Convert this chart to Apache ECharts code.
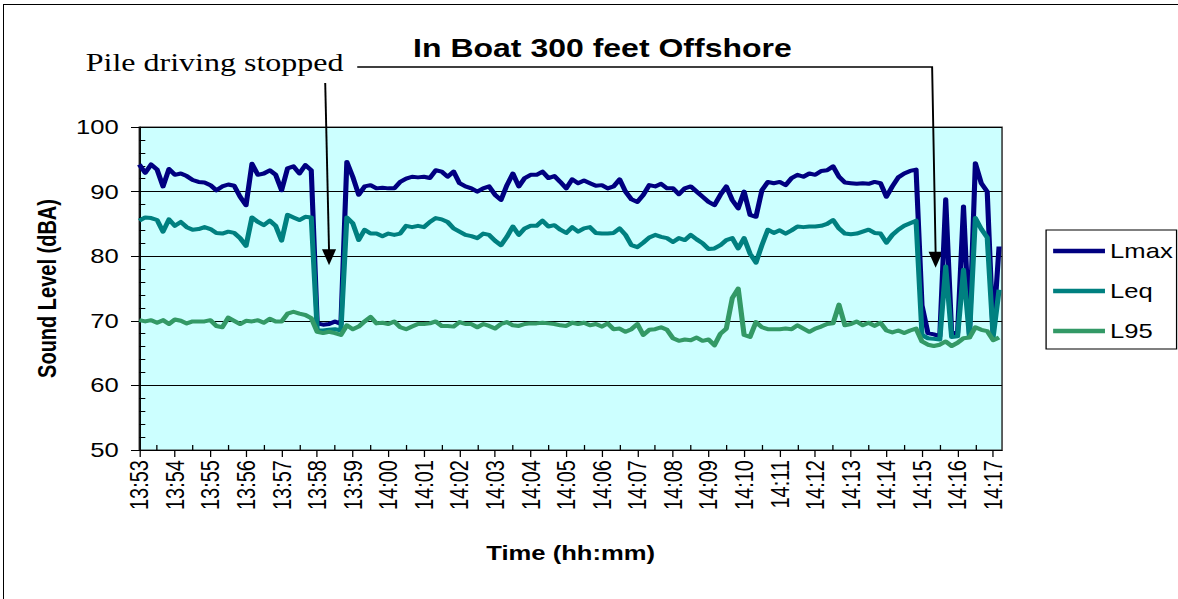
<!DOCTYPE html>
<html>
<head>
<meta charset="utf-8">
<script src="https://cdn.jsdelivr.net/npm/echarts@6.0.0/dist/echarts.min.js"></script>
<style>
  html, body { margin: 0; padding: 0; background: #fff; overflow: hidden; }
  /* the chart is laid out narrow and widened, as the printed figure is */
  #chart { position: absolute; left: 0; top: 0; width: 920px; height: 599px;
           transform: scaleX(1.2804); transform-origin: 0 0; }
  #frame { position: absolute; left: 3px; top: 4px; width: 1190px; height: 610px;
           border: 1px solid #000; box-sizing: border-box; pointer-events: none; }
</style>
</head>
<body>
<div id="chart"></div>
<div id="frame"></div>
<script>
// Minute labels along the time axis
const TIME_LABELS = ['13:53','13:54','13:55','13:56','13:57','13:58','13:59',
  '14:00','14:01','14:02','14:03','14:04','14:05','14:06','14:07','14:08','14:09',
  '14:10','14:11','14:12','14:13','14:14','14:15','14:16','14:17'];

// Logger interval (seconds) between readings, starting at 13:53:00
const SAMPLE_SECONDS = 10;

// Sound levels in dBA, one reading per interval
const LMAX = [
  94.2,92.9,94.2,93.4,90.8,93.5, 92.6,92.8,92.4,91.8,91.5,91.4,
  91.0,90.2,90.8,91.1,90.9,89.2, 87.9,94.3,92.6,92.8,93.3,92.6,
  90.2,93.6,93.9,92.8,94.1,93.3, 69.6,69.4,69.5,69.9,69.5,94.6,
  92.3,89.5,90.8,91.0,90.5,90.6, 90.5,90.5,91.5,92.0,92.3,92.2,
  92.3,92.1,93.3,93.1,92.3,93.1, 91.3,90.8,90.5,90.0,90.5,90.8,
  89.5,88.7,91.0,92.8,90.8,92.1, 92.6,92.6,93.1,92.1,92.4,91.5,
  90.5,91.9,91.3,91.7,91.3,90.9, 91.0,90.5,90.8,91.9,90.0,88.8,
  88.4,89.5,91.0,90.8,91.2,90.5, 90.5,89.6,90.5,90.8,90.0,89.2,
  88.4,87.9,89.5,90.8,88.7,87.4, 90.0,86.4,86.1,90.2,91.5,91.3,
  91.5,91.0,92.1,92.6,92.3,92.8, 92.6,93.2,93.3,93.9,92.3,91.4,
  91.3,91.2,91.3,91.2,91.5,91.3, 89.2,90.8,92.2,92.8,93.2,93.4,
  72.4,68.1,67.9,67.6,88.8,68.1, 68.1,87.7,68.0,94.4,91.3,90.0,
  68.0,81.5
];
const LEQ = [
  85.5,86.0,85.9,85.6,83.8,85.7, 84.7,85.3,84.5,84.1,84.2,84.5,
  84.2,83.6,83.5,83.8,83.6,82.8, 81.6,86.0,85.3,84.8,85.5,84.7,
  82.4,86.4,86.0,85.6,86.1,86.0, 68.6,68.5,68.6,68.7,68.5,86.0,
  85.1,82.5,84.1,83.5,83.5,83.1, 83.5,83.3,83.5,84.7,84.5,84.7,
  84.5,85.3,85.9,85.7,85.3,84.3, 83.8,83.3,83.1,82.8,83.5,83.3,
  82.4,81.7,83.0,84.6,83.3,84.3, 84.7,84.7,85.5,84.6,84.8,84.1,
  83.6,84.5,83.8,84.3,84.5,83.6, 83.5,83.5,83.6,84.3,83.3,81.7,
  81.4,82.1,82.9,83.3,83.0,82.8, 82.2,82.8,82.5,83.3,82.6,82.0,
  81.1,81.2,81.7,82.5,82.8,81.2, 82.8,80.4,79.0,81.7,84.1,83.6,
  84.0,83.5,84.0,84.6,84.5,84.6, 84.6,84.7,85.0,85.6,84.3,83.5,
  83.4,83.5,83.8,84.1,83.6,83.5, 82.1,83.3,84.1,84.7,85.1,85.5,
  67.8,67.3,67.2,67.1,78.4,67.5, 67.6,77.9,67.5,85.9,84.2,82.9,
  67.5,74.8
];
const L95 = [
  70.1,69.9,70.1,69.7,70.1,69.5, 70.2,70.0,69.6,69.9,69.9,69.9,
  70.1,69.2,69.0,70.5,70.0,69.5, 70.0,69.9,70.1,69.7,70.3,69.9,
  69.9,71.1,71.4,71.1,70.9,70.4, 68.3,68.1,68.3,68.1,67.8,69.3,
  68.7,69.1,69.9,70.6,69.6,69.7, 69.5,69.9,69.0,68.7,69.1,69.5,
  69.5,69.6,69.9,69.2,69.2,69.1, 69.8,69.5,69.5,69.0,69.5,69.2,
  68.8,69.5,69.8,69.3,69.2,69.5, 69.6,69.6,69.7,69.6,69.5,69.3,
  69.2,69.7,69.5,69.7,69.3,69.5, 69.1,69.6,68.7,68.8,68.3,68.7,
  69.5,67.8,68.6,68.7,69.0,68.6, 67.3,66.9,67.1,67.0,67.4,66.9,
  67.1,66.2,68.0,68.8,73.5,75.0, 67.8,67.5,69.8,69.0,68.7,68.7,
  68.7,68.8,68.7,69.3,68.8,68.3, 68.8,69.1,69.5,69.6,72.5,69.3,
  69.5,69.9,69.3,69.7,69.2,69.7, 68.5,68.2,68.5,68.1,68.5,68.8,
  66.8,66.3,66.1,66.3,66.8,66.1, 66.6,67.3,67.4,69.0,68.6,68.4,
  67.0,67.4
];

const SERIES_NAMES = ['Lmax', 'Leq', 'L95'];
const SERIES_VALUES = [LMAX, LEQ, L95];
const SERIES_COLORS = ['#000080', '#008080', '#339966'];

const Y_MIN = 50, Y_MAX = 100, Y_STEP = 10, Y_MINOR_STEP = 2;
const X_END = 1455; // 14:17:15

const TITLE = 'In Boat 300 feet Offshore';
const NOTE = 'Pile driving stopped';
// where the two arrows point: [seconds after 13:53, dBA]
const ARROW_TIPS = [[320, 78.6], [1343, 78.2]];

const FONT = '"Liberation Sans", Arial, sans-serif';
const SERIF = '"Liberation Serif", "Times New Roman", serif';

const majorX = TIME_LABELS.map((_, i) => i * 60);
const minorX = TIME_LABELS.slice(1).map((_, i) => i * 60 + 30);
const minorY = [];
for (let v = Y_MIN + Y_MINOR_STEP; v < Y_MAX; v += Y_MINOR_STEP) {
  if (v % Y_STEP !== 0) minorY.push(v);
}

const chart = echarts.init(document.getElementById('chart'), null, { renderer: 'svg' });

const option = {
  animation: false,
  backgroundColor: '#ffffff',
  title: {
    text: TITLE,
    left: 465.5, top: 31, textAlign: 'center',
    textStyle: { fontFamily: FONT, fontSize: 25, fontWeight: 'bold', color: '#000' }
  },
  legend: {
    orient: 'vertical',
    left: 817, top: 230,
    padding: [11, 3, 8, 5.5],
    borderColor: '#000', borderWidth: 1,
    backgroundColor: '#fff',
    itemWidth: 40.5, itemHeight: 4.5, itemGap: 20,
    icon: 'rect',
    textStyle: { fontFamily: FONT, fontSize: 20, color: '#000', lineHeight: 20, padding: [0, 0, 0, -1] },
    data: SERIES_NAMES
  },
  grid: {
    left: 108.8, top: 127, width: 673.8, height: 323,
    show: true, backgroundColor: '#CCFFFF', borderColor: '#333', borderWidth: 1.2,
    containLabel: false
  },
  xAxis: [{
    type: 'value', position: 'bottom', min: 0, max: X_END,
    axisLine: { onZero: false, lineStyle: { color: '#000', width: 1.2 } },
    axisTick: { customValues: majorX, inside: false, length: 7, lineStyle: { color: '#000' } },
    axisLabel: {
      customValues: majorX, rotate: 90, margin: 10,
      fontFamily: FONT, fontSize: 20, color: '#000',
      formatter: v => TIME_LABELS[Math.round(v / 60)]
    },
    splitLine: { show: false },
    name: 'Time (hh:mm)', nameLocation: 'middle', nameGap: 93,
    nameTextStyle: { fontFamily: FONT, fontSize: 20, fontWeight: 'bold', color: '#000' }
  }, {
    type: 'value', position: 'bottom', min: 0, max: X_END,
    axisLine: { show: false, onZero: false },
    axisTick: { customValues: minorX, inside: true, length: 5, lineStyle: { color: '#000' } },
    axisLabel: { show: false },
    splitLine: { show: false }
  }],
  yAxis: [{
    type: 'value', position: 'left', min: Y_MIN, max: Y_MAX, interval: Y_STEP,
    axisLine: { show: true, lineStyle: { color: '#000', width: 1.2 } },
    axisTick: { show: true, inside: false, length: 6.5, lineStyle: { color: '#000' } },
    axisLabel: { margin: 16, fontFamily: FONT, fontSize: 20, color: '#000' },
    splitLine: { show: true, lineStyle: { color: '#000', width: 1 } },
    name: 'Sound Level (dBA)', nameLocation: 'middle', nameGap: 62, nameRotate: 90,
    nameTextStyle: { fontFamily: FONT, fontSize: 20, fontWeight: 'bold', color: '#000' }
  }, {
    type: 'value', position: 'left', min: Y_MIN, max: Y_MAX,
    axisLine: { show: false },
    axisTick: { show: true, customValues: minorY, inside: true, length: 4.7, lineStyle: { color: '#000' } },
    axisLabel: { show: false },
    splitLine: { show: false }
  }],
  series: SERIES_NAMES.map((name, s) => ({
    name, type: 'line',
    xAxisIndex: 0, yAxisIndex: 0,
    showSymbol: false, symbol: 'none',
    color: SERIES_COLORS[s],
    lineStyle: { color: SERIES_COLORS[s], width: 4, join: 'round' },
    data: SERIES_VALUES[s].map((v, i) => [i * SAMPLE_SECONDS, v])
  }))
};

chart.setOption(option);

// Callout: note text, its leader line and the two arrows
const tips = ARROW_TIPS.map(p => chart.convertToPixel({ gridIndex: 0 }, p));
const headLen = 16, headHalf = 5.5;
const arrowHead = (tip) => ({
  type: 'polygon',
  shape: { points: [[tip[0], tip[1]], [tip[0] - headHalf, tip[1] - headLen], [tip[0] + headHalf, tip[1] - headLen]] },
  style: { fill: '#000' }
});
const leaderY = 67;
const rightTop = [728, leaderY];
const leftTop = [254, 83];

chart.setOption({
  graphic: [
    { type: 'text', left: 67, top: 50,
      style: { text: NOTE, font: '25px ' + SERIF, fill: '#000' } },
    { type: 'polyline',
      shape: { points: [[279, leaderY], rightTop, [tips[1][0], tips[1][1] - headLen + 2]] },
      style: { stroke: '#000', lineWidth: 1.5, fill: null } },
    arrowHead(tips[1]),
    { type: 'line',
      shape: { x1: leftTop[0], y1: leftTop[1], x2: tips[0][0], y2: tips[0][1] - headLen + 2 },
      style: { stroke: '#000', lineWidth: 1.5 } },
    arrowHead(tips[0])
  ]
});
</script>
</body>
</html>
